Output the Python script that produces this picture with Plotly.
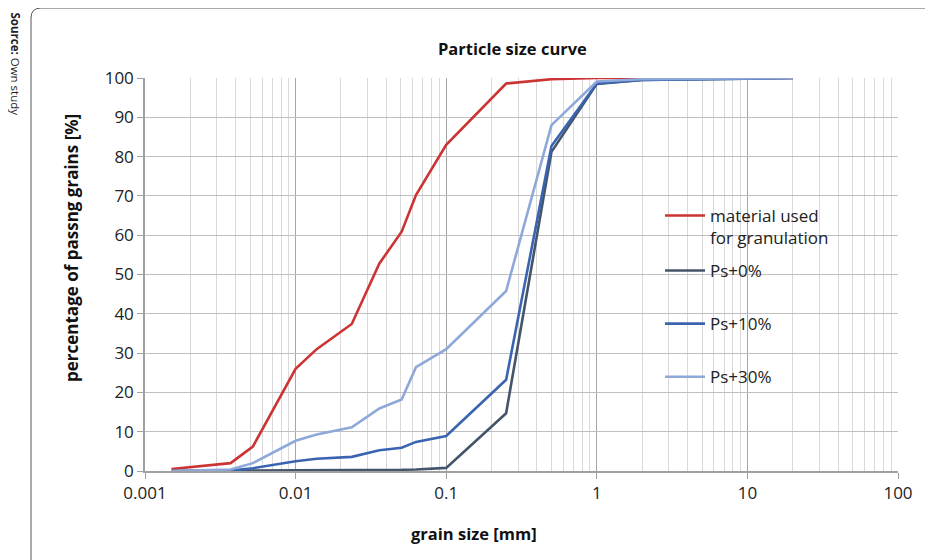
import plotly.graph_objects as go

# grain sizes [mm]
size_red = [0.0015, 0.0037, 0.0052, 0.01, 0.0138, 0.0236, 0.036, 0.0506, 0.063, 0.1, 0.25, 0.5, 1, 2, 20]
pass_red = [0.5, 2.0, 6.2, 26.0, 31.0, 37.4, 52.8, 60.9, 70.2, 83.0, 98.6, 99.7, 100, 100, 100]

size_ps = [0.0015, 0.0037, 0.0052, 0.01, 0.0138, 0.0236, 0.036, 0.0506, 0.063, 0.1, 0.25, 0.5, 1, 2, 20]
pass_ps0 = [0.0, 0.0, 0.1, 0.2, 0.2, 0.2, 0.3, 0.3, 0.4, 0.8, 14.7, 81.2, 98.5, 99.5, 100]
pass_ps10 = [0.0, 0.1, 0.7, 2.5, 3.1, 3.6, 5.3, 5.9, 7.4, 8.9, 23.2, 82.7, 98.6, 99.5, 100]
pass_ps30 = [0.0, 0.4, 2.0, 7.7, 9.3, 11.1, 15.9, 18.2, 26.4, 31.0, 45.8, 88.0, 99.1, 99.7, 100]

series_names = ["material used<br>for granulation", "Ps+0%", "Ps+10%", "Ps+30%"]
series_colors = ["#CC3333", "#44546A", "#3A64B0", "#8EA8DA"]

x_tickvals = [0.001, 0.01, 0.1, 1, 10, 100]
x_ticktext = ["0.001", "0.01", "0.1", "1", "10", "100"]
minor_vals = [m * 10 ** e for e in range(-3, 2) for m in range(2, 10)]

# page body margin offset
OFF = 8
W, H = 933 - OFF, 560 - OFF
# plot area in screen coordinates: x 145..898, y 78..471
L, T = 145 - OFF, 78 - OFF
R = W - (898 - OFF)
B = H - (471 - OFF)
pw, ph = W - L - R, H - T - B


def px(sx):
    return (sx - OFF - L) / pw


def py(sy):
    return (H - B - (sy - OFF)) / ph


fig = go.Figure()
data = [(size_red, pass_red), (size_ps, pass_ps0), (size_ps, pass_ps10), (size_ps, pass_ps30)]
for i, ((xs, ys), name, col) in enumerate(zip(data, series_names, series_colors)):
    fig.add_trace(go.Scatter(x=xs, y=ys, mode="lines", name=name, legendgroup=str(i),
                             legend="legend" if i == 0 else "legend2",
                             line=dict(color=col, width=2.6)))

font = "Open Sans, Noto Sans, sans-serif"
leg_common = dict(xanchor="left", yanchor="top", bgcolor="rgba(0,0,0,0)",
                  font=dict(size=17, color="#222"), tracegroupgap=28,
                  valign="top", itemwidth=40)

fig.update_layout(
    width=W, height=H,
    margin=dict(l=L, r=R, t=T, b=B),
    paper_bgcolor="white", plot_bgcolor="white",
    font=dict(family=font, size=15, color="#222"),
    showlegend=True,
    legend=dict(x=px(660), y=py(198), **leg_common),
    legend2=dict(x=px(660), y=py(253), **leg_common),
    xaxis=dict(type="log", range=[-3, 2], tickvals=x_tickvals, ticktext=x_ticktext,
               showgrid=True, gridcolor="#a6a6a6", gridwidth=1,
               showline=True, linecolor="#a0a0a0", linewidth=1.5,
               ticks="outside", ticklen=6, tickcolor="#a0a0a0",
               tickfont=dict(size=17, color="#222"),
               minor=dict(tickvals=minor_vals, showgrid=True, gridcolor="#d9d9d9", gridwidth=1, ticks=""),
               zeroline=False),
    yaxis=dict(range=[0, 100], dtick=10, showgrid=True, gridcolor="#bfbfbf", gridwidth=1,
               showline=True, linecolor="#a0a0a0", linewidth=1.5,
               ticks="outside", ticklen=6, tickcolor="#a0a0a0",
               tickfont=dict(size=17, color="#222"), zeroline=False),
)

# white legend background covering gridlines
fig.add_shape(type="rect", xref="paper", yref="paper",
              x0=px(632), x1=px(840), y0=py(415), y1=py(197),
              fillcolor="white", line=dict(width=0), layer="between")

# outer rounded frame
x0f, y0f = px(31), py(8)
x1f, y1f = px(960), py(600)
rx, ry = 10 / pw, 10 / ph
fig.add_shape(type="path", xref="paper", yref="paper",
              path=f"M {x0f},{y1f} L {x0f},{y0f - ry} Q {x0f},{y0f} {x0f + rx},{y0f} L {x1f},{y0f}",
              line=dict(color="#555", width=1))

fig.add_annotation(text="<b>Particle size curve</b>", xref="paper", yref="paper",
                   x=px(512), y=py(48), xanchor="center", yanchor="middle", showarrow=False,
                   font=dict(size=16.5, color="#111"))
fig.add_annotation(text="<b>grain size [mm]</b>", xref="paper", yref="paper",
                   x=px(474), y=py(533), xanchor="center", yanchor="middle", showarrow=False,
                   font=dict(size=16.5, color="#111"))
fig.add_annotation(text="<b>percentage of passng grains [%]</b>", xref="paper", yref="paper",
                   x=px(71), y=py(248), xanchor="center", yanchor="middle", showarrow=False,
                   textangle=-90, font=dict(size=17, color="#111"))
fig.add_annotation(text="<b>Source:</b> Own study", xref="paper", yref="paper",
                   x=px(15), y=py(10), xanchor="center", yanchor="top", showarrow=False,
                   textangle=90, font=dict(size=11.5, color="#222"))

fig.write_html("out.html")
